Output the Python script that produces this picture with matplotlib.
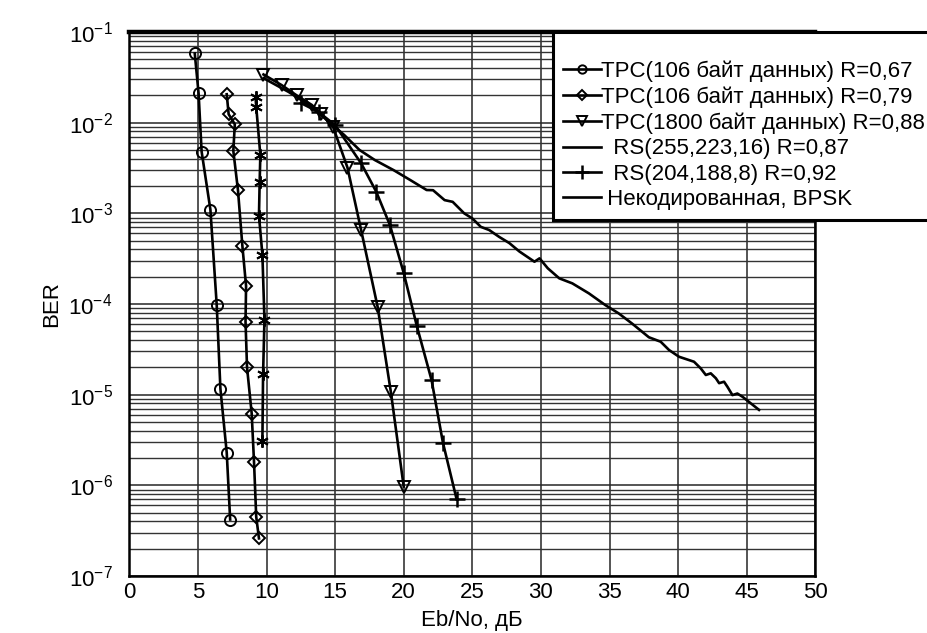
import matplotlib
matplotlib.use("Agg")
import matplotlib.pyplot as plt
from matplotlib.lines import Line2D

plt.rcParams["font.family"] = ["Liberation Sans", "DejaVu Sans"]
plt.rcParams["mathtext.fontset"] = "custom"
plt.rcParams["mathtext.rm"] = "Liberation Sans"
plt.rcParams["mathtext.it"] = "Liberation Sans:italic"
plt.rcParams["mathtext.bf"] = "Liberation Sans:bold"

# ====== Data (Eb/No in dB, BER) ======
tpc67_x = [4.77, 5.05, 5.27, 5.91, 6.37, 6.64, 7.10, 7.35]
tpc67_y = [5.8e-2, 2.1e-2, 4.8e-3, 1.1e-3, 9.8e-5, 1.16e-5, 2.3e-6, 4.2e-7]

tpc79_x = [7.10, 7.24, 7.69, 7.58, 7.92, 8.24, 8.51, 8.47, 8.58, 8.92, 9.09, 9.25, 9.45]
tpc79_y = [2.06e-2, 1.24e-2, 9.6e-3, 4.9e-3, 1.8e-3, 4.4e-4, 1.58e-4, 6.4e-5,
           2.0e-5, 6.2e-6, 1.8e-6, 4.5e-7, 2.6e-7]

tpc88_x = [9.78, 11.1, 12.2, 13.3, 14.0, 14.85, 15.9, 16.9, 18.1, 19.06, 20.0]
tpc88_y = [3.4e-2, 2.6e-2, 2.0e-2, 1.57e-2, 1.25e-2, 9.0e-3, 3.2e-3, 6.5e-4,
           9.3e-5, 1.08e-5, 9.7e-7]

rs255_x = [9.2, 9.25, 9.55, 9.5, 9.45, 9.7, 9.85, 9.75, 9.7]
rs255_y = [1.9e-2, 1.5e-2, 4.4e-3, 2.2e-3, 9.4e-4, 3.5e-4, 6.7e-5, 1.7e-5, 3.1e-6]

rs204_x = [12.5, 13.8, 15.0, 16.9, 18.0, 19.0, 20.0, 20.96, 22.03, 22.86, 23.86]
rs204_y = [1.65e-2, 1.31e-2, 9.4e-3, 3.56e-3, 1.73e-3, 7.4e-4, 2.2e-4, 5.7e-5,
           1.45e-5, 2.95e-6, 7.0e-7]

bpsk_x = [9.78, 11.62, 13.09, 14.56, 15.67, 16.78, 17.9, 19.26, 20.48, 21.67, 22.14,
          22.98, 23.57, 24.41, 25.0, 25.62, 26.23, 26.96, 27.7, 28.43, 29.53, 29.9,
          30.5, 31.34, 32.29, 33.5, 34.69, 35.66, 36.64, 37.87, 38.73, 39.34, 40.07,
          41.16, 41.65, 42.02, 42.38, 42.75, 42.99, 43.35, 43.6, 43.96, 44.32, 44.69,
          45.9]
bpsk_y = [3.1e-2, 2.18e-2, 1.57e-2, 1.02e-2, 7.3e-3, 5.0e-3, 3.87e-3, 3.0e-3, 2.33e-3,
          1.81e-3, 1.8e-3, 1.4e-3, 1.34e-3, 1.0e-3, 8.8e-4, 7.1e-4, 6.55e-4, 5.5e-4,
          4.7e-4, 3.8e-4, 2.93e-4, 3.19e-4, 2.48e-4, 1.92e-4, 1.69e-4, 1.31e-4,
          9.75e-5, 7.9e-5, 6.1e-5, 4.3e-5, 3.84e-5, 3.11e-5, 2.62e-5, 2.31e-5,
          1.95e-5, 1.65e-5, 1.72e-5, 1.52e-5, 1.34e-5, 1.39e-5, 1.22e-5, 9.9e-6,
          1.03e-5, 9.5e-6, 6.8e-6]

labels = [
    "TPC(106 байт данных) R=0,67",
    "TPC(106 байт данных) R=0,79",
    "TPC(1800 байт данных) R=0,88",
    "  RS(255,223,16) R=0,87",
    "  RS(204,188,8) R=0,92",
    " Некодированная, BPSK",
]

x_ticks = [0, 5, 10, 15, 20, 25, 30, 35, 40, 45, 50]
y_ticks = [1e-7, 1e-6, 1e-5, 1e-4, 1e-3, 1e-2, 1e-1]
y_tick_labels = [r"$\mathregular{10^{-%d}}$" % k for k in [7, 6, 5, 4, 3, 2, 1]]

# ====== Plot ======
fig = plt.figure(figsize=(9.27, 6.33), dpi=100)
ax = fig.add_axes([0.1395, 0.09, 0.7400, 0.8594])

lw = 1.9
style = dict(color="black", lw=lw, mfc="none", mec="black", mew=1.4)

ax.plot(tpc67_x, tpc67_y, marker="o", ms=8, **style)
ax.plot(tpc79_x, tpc79_y, marker="D", ms=6.5, **style)
ax.plot(tpc88_x, tpc88_y, marker="v", ms=8, **style)
ax.plot(rs255_x, rs255_y, marker=(6, 2, 0), ms=9, color="black", lw=lw, mew=1.4)
ax.plot(rs204_x, rs204_y, marker="+", ms=11, color="black", lw=lw, mew=1.8)
ax.plot(bpsk_x, bpsk_y, color="black", lw=lw)

ax.set_yscale("log")
ax.set_xlim(0, 50)
ax.set_ylim(1e-7, 1e-1)
ax.set_xticks(x_ticks)
ax.set_xticklabels([str(v) for v in x_ticks])
ax.set_yticks(y_ticks)
ax.set_yticklabels(y_tick_labels)

ax.grid(True, which="major", axis="both", color="0.15", lw=1.1)
ax.grid(True, which="minor", axis="y", color="0.2", lw=1.0)
ax.tick_params(axis="both", which="both", length=0, labelsize=16)
ax.tick_params(axis="y", pad=12)
ax.tick_params(axis="x", pad=4)

for s in ["left", "bottom", "right"]:
    ax.spines[s].set_linewidth(1.8)
ax.spines["top"].set_linewidth(3.2)

ax.set_xlabel("Eb/No, дБ", fontsize=16)
ax.set_ylabel("BER", fontsize=16)
ax.xaxis.set_label_coords(0.5, -0.062)
ax.yaxis.set_label_coords(-0.098, 0.5)

handles = [
    Line2D([], [], marker="o", ms=6, **style),
    Line2D([], [], marker="D", ms=5, **style),
    Line2D([], [], marker="v", ms=7, **style),
    Line2D([], [], color="black", lw=lw),
    Line2D([], [], marker="+", ms=10, color="black", lw=lw, mew=1.8),
    Line2D([], [], color="black", lw=lw),
]
leg = ax.legend(handles, labels, loc="upper left", bbox_to_anchor=(0.618, 1.0),
                fontsize=16, frameon=True, fancybox=False, framealpha=1,
                edgecolor="black", labelspacing=0.2, handlelength=1.7,
                handletextpad=0.0, borderpad=0.45, borderaxespad=0, numpoints=1,
                title=" ", title_fontsize=11)
leg.get_frame().set_linewidth(2.2)

fig.savefig("out.png", dpi=100)
